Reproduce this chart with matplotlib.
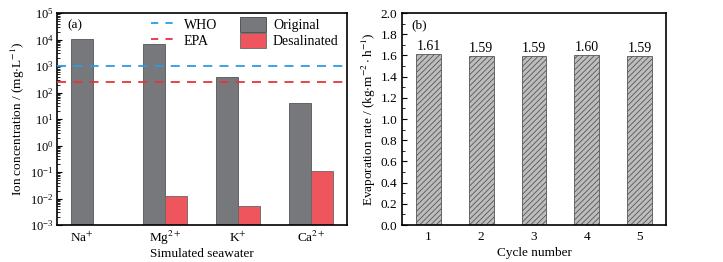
import numpy as np
import matplotlib
matplotlib.use("Agg")
import matplotlib.pyplot as plt
from matplotlib.ticker import LogLocator, MultipleLocator, NullFormatter
from matplotlib.lines import Line2D
from matplotlib.patches import Patch

plt.rcParams['font.family'] = ['Liberation Serif', 'DejaVu Serif']
plt.rcParams['mathtext.fontset'] = 'stix'
plt.rcParams['font.size'] = 9
plt.rcParams['hatch.linewidth'] = 0.6
plt.rcParams['hatch.color'] = '#5a5a5a'

# Panel (a) data
ions = [r'Na$^{+}$', r'Mg$^{2+}$', r'K$^{+}$', r'Ca$^{2+}$']
original = [10500, 7000, 400, 41]
desalinated = [np.nan, 0.012, 0.005, 0.11]
who_limit = 1000
epa_limit = 240

# Panel (b) data
cycles = ['1', '2', '3', '4', '5']
evap_rate = [1.61, 1.59, 1.59, 1.60, 1.59]

fig = plt.figure(figsize=(7.23, 2.62), dpi=100)
W, H = 723, 262
axa = fig.add_axes([57 / W, 1 - 225 / H, (347 - 57) / W, (225 - 13) / H])
axb = fig.add_axes([402 / W, 1 - 225 / H, (666 - 402) / W, (225 - 13) / H])

gray = '#77787b'
red = '#ef555c'
blue_line = '#2e9be0'
red_line = '#e8343a'
bw = 0.30
cat_pos = np.array([-0.135, 1, 2, 3])
has_des = ~np.isnan(np.array(desalinated))
gray_x = np.where(has_des, cat_pos - bw / 2, cat_pos)
red_x = cat_pos + bw / 2

axa.bar(gray_x, original, width=bw, color=gray, edgecolor='#555555', linewidth=0.6, zorder=2)
dvals = np.array(desalinated)
axa.bar(red_x[has_des], dvals[has_des], width=bw, color=red, edgecolor='#666666',
        linewidth=0.6, zorder=2)
dash = (0, (5, 4))
axa.axhline(who_limit, color=blue_line, linestyle=dash, linewidth=1.3, zorder=3)
axa.axhline(epa_limit, color=red_line, linestyle=dash, linewidth=1.3, zorder=3)
axa.set_yscale('log')
axa.set_ylim(1e-3, 1e5)
axa.set_xlim(-0.48, 3.49)
axa.set_xticks(cat_pos)
axa.set_xticklabels(ions)
for t in axa.get_xticklabels():
    t.set_verticalalignment('baseline')
axa.yaxis.set_major_locator(LogLocator(base=10, numticks=20))
axa.yaxis.set_minor_locator(LogLocator(base=10, subs=np.arange(2, 10), numticks=20))
axa.yaxis.set_minor_formatter(NullFormatter())
axa.tick_params(axis='y', which='both', direction='in', right=False, labelsize=9)
axa.tick_params(axis='y', which='major', length=3.5, pad=2.5)
axa.tick_params(axis='y', which='minor', length=1.8)
axa.tick_params(axis='x', length=0, pad=12, labelsize=9.5)
axa.set_xlabel('Simulated seawater', labelpad=1, fontsize=9.5)
axa.set_ylabel('Ion concentration / (mg$\\cdot$L$^{-1}$)', labelpad=2, fontsize=9.5)
axa.text(0.035, 0.94, '(a)', transform=axa.transAxes, ha='left', va='center', fontsize=9.5)
handles = [Line2D([], [], color=blue_line, linestyle=(0, (4, 4)), linewidth=1.3),
           Line2D([], [], color=red_line, linestyle=(0, (4, 4)), linewidth=1.3),
           Patch(facecolor=gray, edgecolor='#444444', linewidth=0.6),
           Patch(facecolor=red, edgecolor='#666666', linewidth=0.6)]
labels = ['WHO', 'EPA', 'Original', 'Desalinated']
axa.legend(handles, labels, ncol=2, frameon=False,
           loc='upper right', bbox_to_anchor=(1.0, 1.02), handlelength=1.9,
           handleheight=1.3, handletextpad=0.5, columnspacing=1.6, borderaxespad=0.2,
           labelspacing=0.05, fontsize=10)
for s in axa.spines.values():
    s.set_linewidth(1.2)

xb = np.arange(1, len(cycles) + 1)
axb.bar(xb, evap_rate, width=0.47, color='#bdbdbd', edgecolor='#555555',
        linewidth=0.6, hatch='//////', zorder=2)
for xi, v in zip(xb, evap_rate):
    axb.text(xi, v + 0.01, f'{v:.2f}', ha='center', va='bottom', fontsize=10)
axb.set_xlim(0.5, 5.5)
axb.set_ylim(0, 2.0)
axb.set_xticks(xb)
axb.set_xticklabels(cycles)
axb.yaxis.set_major_locator(MultipleLocator(0.2))
axb.yaxis.set_minor_locator(MultipleLocator(0.1))
axb.yaxis.set_major_formatter(plt.FuncFormatter(lambda v, p: f'{v:.1f}'))
axb.tick_params(axis='y', which='both', direction='in', labelsize=9.5)
axb.tick_params(axis='y', which='major', length=3.5)
axb.tick_params(axis='y', which='minor', length=1.8)
axb.tick_params(axis='x', direction='in', length=2.5, pad=4, labelsize=9.5)
axb.set_xlabel('Cycle number', labelpad=3, fontsize=9.5)
axb.set_ylabel('Evaporation rate / (kg$\\cdot$m$^{-2}\\cdot$h$^{-1}$)', labelpad=2, fontsize=9.5)
axb.text(0.035, 0.94, '(b)', transform=axb.transAxes, ha='left', va='center', fontsize=9.5)
for s in axb.spines.values():
    s.set_linewidth(1.2)

fig.savefig('out.png', dpi=100)
